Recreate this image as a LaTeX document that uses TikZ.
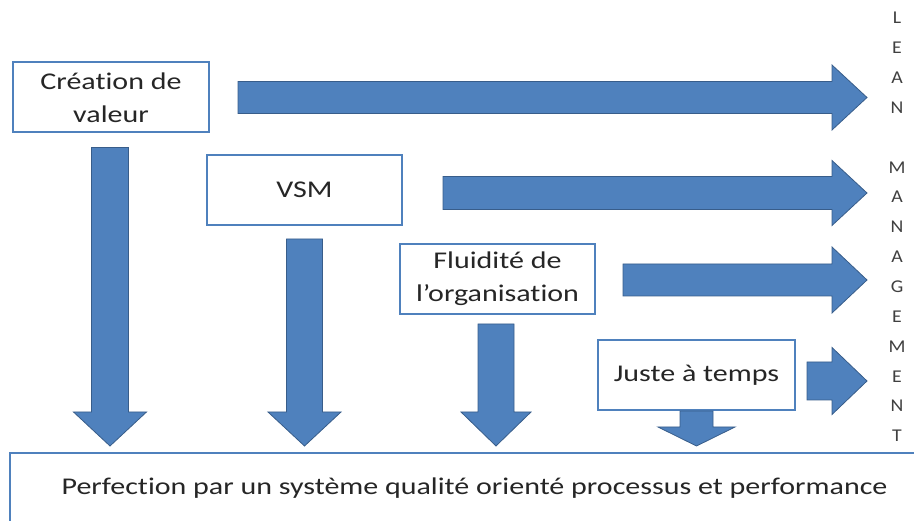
\documentclass[tikz,border=0pt]{standalone}
\usepackage{fontspec}
\setmainfont{Carlito}[FakeStretch=1.25,Ligatures=NoCommon]
\newfontfamily\letterfont{Carlito}[FakeStretch=1.1]
\usetikzlibrary{calc}
\definecolor{office blue}{HTML}{4F81BD}
\definecolor{office dark blue}{HTML}{385D8A}
\tikzset{
    % Nodes
    concept box/.style={draw=office blue,line width=2pt,fill=white,text=black!85,
        minimum width=196pt,minimum height=70pt,inner sep=0pt,align=center,
        font=\fontsize{24}{33}\selectfont},
    letter column/.style={text=black!75,align=center,inner sep=0pt,
        font=\letterfont\fontsize{18}{29.86}\selectfont},
    %
    % Arrows
    block arrow/.style={fill=office blue,draw=office dark blue,line width=0.8pt,line join=miter}
}
% horizontal block arrow: start, tip, shaft half width, head half width
\newcommand{\rightblock}[4]{%
    \filldraw[block arrow] ($(#1)+(0,#3)$) -- ($(#2)+(-35,#3)$) -- ($(#2)+(-35,#4)$) -- (#2)
        -- ($(#2)+(-35,-#4)$) -- ($(#2)+(-35,-#3)$) -- ($(#1)+(0,-#3)$) -- cycle;}
% vertical block arrow: start, tip, shaft half width, head half width, head length
\newcommand{\downblock}[5]{%
    \filldraw[block arrow] ($(#1)+(-#3,0)$) -- ($(#2)+(-#3,#5)$) -- ($(#2)+(-#4,#5)$) -- (#2)
        -- ($(#2)+(#4,#5)$) -- ($(#2)+(#3,#5)$) -- ($(#1)+(#3,0)$) -- cycle;}

\begin{document}
\begin{tikzpicture}[x=1pt,y=1pt]
    \useasboundingbox (0,0) rectangle (914,520);
    \clip (0,0) rectangle (914,520);

    % the four steps
    \node[concept box] (crea) at (111,422.5) {Création de\\valeur};
    \node[concept box,minimum width=195pt] (vsm) at (304.5,330) {VSM};
    \node[concept box,minimum width=195pt] (fluid) at (497.5,241) {Fluidité de\\l’organisation};
    \node[concept box,minimum width=197pt] (jat) at (696.5,145) {Juste à temps};

    % result
    \node[concept box,minimum width=929pt,minimum height=71pt] (perf) at (474.5,31.5)
        {Perfection par un système qualité orienté processus et performance};

    % lean management
    \node[letter column] (lean) at (897,293) {L\\E\\A\\N\\[29.86pt]M\\A\\N\\A\\G\\E\\M\\E\\N\\T};

    \coordinate (tips) at ([yshift=6pt]perf.north);
    \coordinate (lean tip) at (867,0);

    % arrows to the right
    \coordinate (h1) at ([xshift=28pt]crea.east);
    \coordinate (h2) at ([xshift=40pt,yshift=-3pt]vsm.east);
    \coordinate (h3) at ([xshift=27pt,yshift=-1pt]fluid.east);
    \coordinate (h4) at ([xshift=11pt,yshift=-6pt]jat.east);
    \rightblock{h1}{h1 -| lean tip}{16}{32.5}
    \rightblock{h2}{h2 -| lean tip}{16.5}{32.5}
    \rightblock{h3}{h3 -| lean tip}{16}{33}
    \rightblock{h4}{h4 -| lean tip}{19}{33.5}

    % arrows down
    \coordinate (v1) at ([xshift=-1pt,yshift=-14pt]crea.south);
    \coordinate (v2) at ([yshift=-13pt]vsm.south);
    \coordinate (v3) at ([xshift=-1.5pt,yshift=-9pt]fluid.south);
    \coordinate (v4) at (jat.south);
    \downblock{v1}{v1 |- tips}{18.5}{36.5}{34}
    \downblock{v2}{v2 |- tips}{18}{36.5}{34}
    \downblock{v3}{v3 |- tips}{18}{35}{34}
    \downblock{v4}{v4 |- tips}{16.5}{38.5}{19}
\end{tikzpicture}
\end{document}
